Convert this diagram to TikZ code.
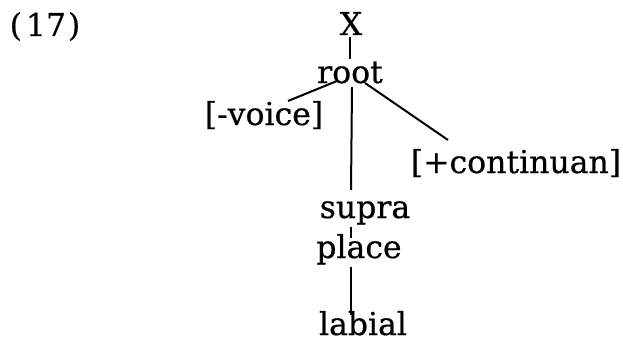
\documentclass[tikz,border=0pt]{standalone}
\usepackage{fontspec}
\setmainfont{DejaVu Serif}
\newfontfamily\heavyserif{DejaVu Serif}[FakeBold=0.6]
\begin{document}
\begin{tikzpicture}[x=1pt,y=-1pt,
  lbl/.style={inner sep=0pt,anchor=base,font=\fontsize{31.5}{34}\heavyserif},
  edge/.style={line width=2pt}]
\useasboundingbox (0,0) rectangle (623,353);
\node[lbl] (num) at (45,36) {(\kern4pt17\kern2pt)};
\node[lbl] (X) at (351,35) {X};
\node[lbl] (root) at (350,83) {root};
\node[lbl] (voice) at (264,125) {[-voice]};
\node[lbl] (cont) at (516,173) {[+continuan]};
\node[lbl] (supra) at (365,218) {supra};
\node[lbl] (place) at (359,258) {place};
\node[lbl] (labial) at (363,335) {labial};
\draw[edge] ([shift={(-1,2)}]X.base) -- ([shift={(0,-24)}]root.base);
\draw[edge] ([shift={(-13,-2)}]root.base) -- ([shift={(24,-24)}]voice.base);
\draw[edge] ([shift={(15,0)}]root.base) -- ([shift={(-68,-33)}]cont.base);
\draw[edge] ([shift={(2,4)}]root.base) -- ([shift={(-14,-28)}]supra.base);
\draw[edge] ([shift={(-14,9)}]supra.base) -- ([shift={(-8,-20)}]place.base);
\draw[edge] ([shift={(-8,9)}]place.base) -- ([shift={(-12,-20)}]labial.base);
\end{tikzpicture}
\end{document}
